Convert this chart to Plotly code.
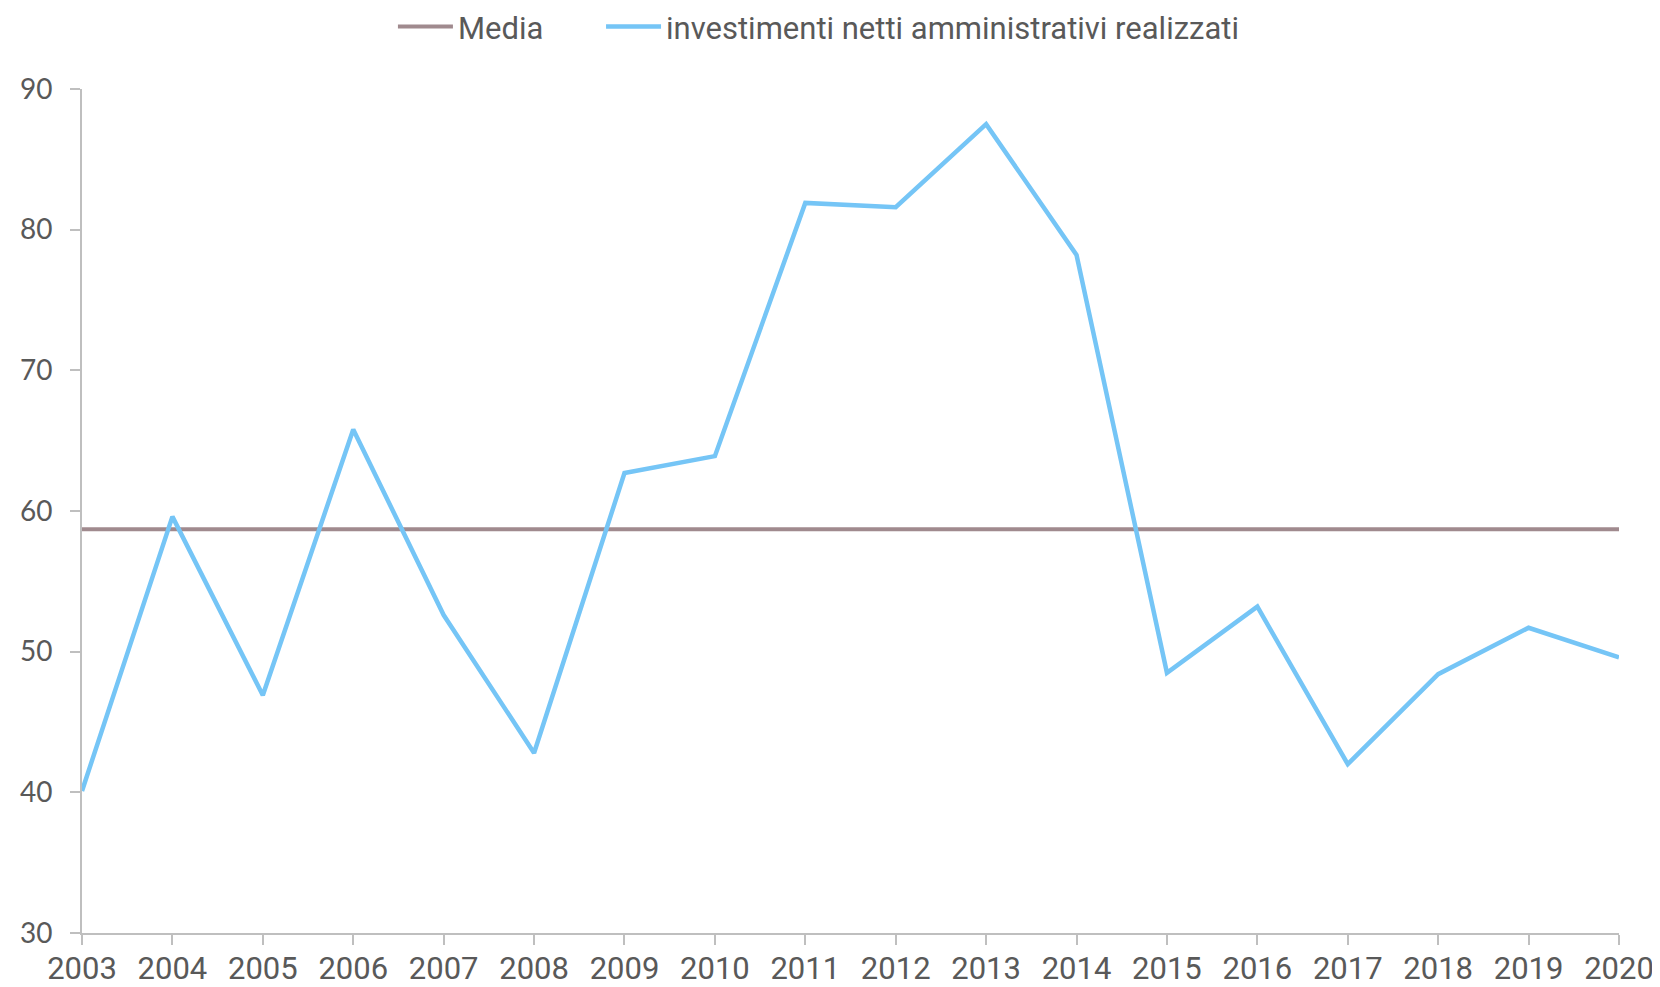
import plotly.graph_objects as go

years = list(range(2003, 2021))
investimenti = [40.1, 59.6, 46.9, 65.8, 52.6, 42.8, 62.7, 63.9, 81.9, 81.6,
                87.5, 78.2, 48.5, 53.2, 42.0, 48.4, 51.7, 49.6]
media = [58.7] * len(years)

y_ticks = [30, 40, 50, 60, 70, 80, 90]

FONT = "Roboto, sans-serif"
TXT = "#595959"

fig = go.Figure()
fig.add_trace(go.Scatter(x=years, y=media, mode="lines", name="Media",
                         line=dict(color="#A08A8E", width=4), legend="legend"))
fig.add_trace(go.Scatter(x=years, y=investimenti, mode="lines",
                         name="investimenti netti amministrativi realizzati",
                         line=dict(color="#75C5F6", width=4.5), legend="legend2"))

leg_common = dict(orientation="h", xanchor="left", yanchor="middle", itemwidth=55,
                  font=dict(size=31, family=FONT, color=TXT),
                  bgcolor="rgba(0,0,0,0)", borderwidth=0)

fig.update_layout(
    width=1652, height=979,
    margin=dict(l=74, r=41, t=81, b=54, autoexpand=False),
    paper_bgcolor="white", plot_bgcolor="white",
    font=dict(family=FONT, color=TXT, size=31),
    legend=dict(x=0.2023, y=1.0735, **leg_common),
    legend2=dict(x=0.3377, y=1.0735, **leg_common),
    showlegend=True,
)
fig.update_xaxes(range=[2003, 2020], tickmode="array", tickvals=years,
                 ticktext=[str(y) for y in years], automargin=False,
                 ticklabelstandoff=-3,
                 showgrid=False, zeroline=False, showline=True, linecolor="#BFBFBF",
                 linewidth=2, ticks="outside", ticklen=10, tickcolor="#BFBFBF",
                 tickwidth=1.5, tickfont=dict(size=31, color=TXT, family=FONT))
fig.update_yaxes(range=[30, 90], tickvals=y_ticks, showgrid=False, zeroline=False,
                 automargin=False, ticklabelstandoff=12,
                 showline=True, linecolor="#BFBFBF", linewidth=2, ticks="outside",
                 ticklen=10, tickcolor="#BFBFBF", tickwidth=1.5,
                 tickfont=dict(family="Lato, sans-serif", size=28, color=TXT))

fig.write_html("out.html")
